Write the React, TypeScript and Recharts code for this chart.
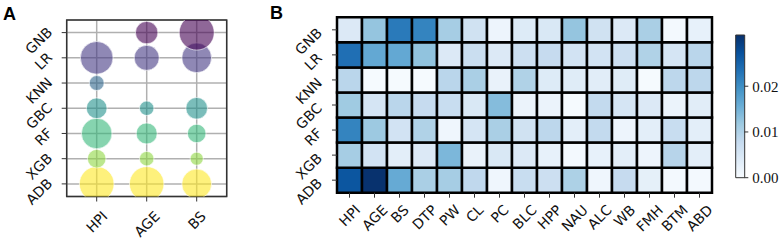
import React from 'react';
import {
  ScatterChart, Scatter, XAxis, YAxis, ZAxis, CartesianGrid, Cell, ReferenceArea,
  BarChart, Bar,
} from 'recharts';

// ---------- data ----------
// models, listed bottom -> top
const models = ['ADB', 'XGB', 'RF', 'GBC', 'KNN', 'LR', 'GNB'];

// Panel A: bubble importance (relative area) for HPI, AGE, BS; 0 = no bubble
const bubbleFeatures = ['HPI', 'AGE', 'BS'];
const bubbleADB = [0.98, 0.97, 0.72];
const bubbleXGB = [0.28, 0.17, 0.14];
const bubbleRF = [0.76, 0.36, 0.28];
const bubbleGBC = [0.35, 0.17, 0.38];
const bubbleKNN = [0.18, 0, 0];
const bubbleLR = [0.87, 0.51, 0.72];
const bubbleGNB = [0, 0.41, 1.0];

// Panel B: heatmap of feature importance
const heatFeatures = ['HPI', 'AGE', 'BS', 'DTP', 'PW', 'CL', 'PC', 'BLC', 'HPP', 'NAU', 'ALC', 'WB', 'FMH', 'BTM', 'ABD'];
const heatADB = [0.0267, 0.0310, 0.0161, 0.0105, 0.0109, 0.0084, 0.0012, 0.0074, 0.0068, 0.0102, 0.0012, 0.0078, 0.0028, 0.0006, 0.0006];
const heatXGB = [0.0109, 0.0059, 0.0031, 0.0043, 0.0143, 0.0022, 0.0047, 0.0043, 0.0025, 0.0006, 0.0025, 0.0031, 0.0016, 0.0093, 0.0031];
const heatRF = [0.0211, 0.0118, 0.0059, 0.0099, 0.0012, 0.0053, 0.0105, 0.0062, 0.0087, 0.0031, 0.0081, 0.0016, 0.0031, 0.0074, 0.0031];
const heatGBC = [0.0115, 0.0053, 0.0090, 0.0078, 0.0074, 0.0047, 0.0136, 0.0019, 0.0019, 0.0003, 0.0081, 0.0053, 0.0043, 0.0019, 0.0034];
const heatKNN = [0.0090, 0.0003, 0.0003, 0.0003, 0.0090, 0.0105, 0.0022, 0.0099, 0.0040, 0.0037, 0.0034, 0.0037, 0.0003, 0.0087, 0.0087];
const heatLR = [0.0236, 0.0164, 0.0164, 0.0127, 0.0043, 0.0071, 0.0043, 0.0068, 0.0078, 0.0059, 0.0059, 0.0068, 0.0099, 0.0053, 0.0090];
const heatGNB = [0.0043, 0.0124, 0.0223, 0.0211, 0.0109, 0.0062, 0.0016, 0.0040, 0.0047, 0.0124, 0.0062, 0.0043, 0.0105, 0.0006, 0.0025];

const colorbarMax = 0.0312;
const colorbarTicks = [0, 0.01, 0.02];

// ---------- helpers ----------
const bubbleRows = [bubbleADB, bubbleXGB, bubbleRF, bubbleGBC, bubbleKNN, bubbleLR, bubbleGNB];
const heatRows = [heatADB, heatXGB, heatRF, heatGBC, heatKNN, heatLR, heatGNB];
const viridis = ['#fde725', '#90d743', '#35b779', '#21918c', '#31688e', '#443983', '#440154'];
const BLUES = ['#f7fbff', '#deebf7', '#c6dbef', '#9ecae1', '#6baed6', '#4292c6', '#2171b5', '#08519c', '#08306b'];

function hexToRgb(h: string) {
  return [parseInt(h.slice(1, 3), 16), parseInt(h.slice(3, 5), 16), parseInt(h.slice(5, 7), 16)];
}
function blues(t: number) {
  const tt = Math.max(0, Math.min(1, t));
  const p = tt * (BLUES.length - 1);
  const i = Math.min(BLUES.length - 2, Math.floor(p));
  const f = p - i;
  const a = hexToRgb(BLUES[i]);
  const b = hexToRgb(BLUES[i + 1]);
  const c = a.map((v, k) => Math.round(v + (b[k] - v) * f));
  return `rgb(${c[0]},${c[1]},${c[2]})`;
}

// approximate DejaVu Sans advance widths (em)
const CW: Record<string, number> = {
  A: 0.684, B: 0.686, C: 0.698, D: 0.770, E: 0.632, F: 0.575, G: 0.775, H: 0.752, I: 0.295,
  L: 0.557, M: 0.863, N: 0.748, P: 0.603, R: 0.695, S: 0.635, T: 0.611, U: 0.732, W: 0.989, X: 0.685,
};
function textWidth(t: string, fs: number) {
  let w = 0;
  for (const ch of t) w += CW[ch] ?? 0.65;
  return w * fs;
}

const SANS = 'DejaVu Sans';
const FS = 14;

function renderXTick(props: any, labels: string[] | null, topOff: number) {
  const { x, y, payload } = props;
  const label = labels ? labels[payload.value] : String(payload.value);
  const L = textWidth(label, FS);
  const c = 0.73 * FS;
  const ax = Number(x) + 0.354 * (L + c);
  const ay = Number(y) + topOff + 0.707 * c;
  return (
    <g>
      <text transform={`translate(${ax},${ay}) rotate(-45)`} textAnchor="end"
        fontFamily={SANS} fontSize={FS} fill="#111">{label}</text>
    </g>
  );
}

function renderYTick(props: any, labels: string[], dx: number, dy: number) {
  const { x, y, payload } = props;
  const label = labels[Math.floor(payload.value)];
  return (
    <g>
      <text transform={`translate(${Number(x) - dx},${Number(y) + dy}) rotate(-45)`} textAnchor="end"
        fontFamily={SANS} fontSize={FS} fill="#111">{label}</text>
    </g>
  );
}

// bubble points
const bubblePoints: { x: number; y: number; z: number; color: string }[] = [];
bubbleRows.forEach((row, i) => {
  row.forEach((v, j) => {
    if (v > 0) bubblePoints.push({ x: j, y: i, z: v, color: viridis[i] });
  });
});

// heatmap table
const heatTable = heatFeatures.map((f) => {
  const o: any = { name: f };
  models.forEach((m) => { o[m] = 1; });
  return o;
});

export default function App() {
  return (
    <div style={{ position: 'absolute', left: 0, top: 0, width: 782, height: 240, background: '#fff', overflow: 'hidden' }}>
      {/* Panel A */}
      <div style={{ position: 'absolute', left: 0, top: 0 }}>
        <ScatterChart width={240} height={240} margin={{ top: 20, right: 13.3, bottom: 13.5, left: 6.7 }}>
          <CartesianGrid stroke="#b0b0b0" strokeWidth={1.5} />
          <XAxis type="number" dataKey="x" domain={[-0.6, 2.6]} ticks={[0, 1, 2]} allowDataOverflow
            height={30} axisLine={false} tickSize={5} tickLine={{ stroke: '#333' }}
            tick={(p: any) => renderXTick(p, bubbleFeatures, 6.5)} interval={0} />
          <YAxis type="number" dataKey="y" domain={[-0.5, 6.5]} ticks={[0, 1, 2, 3, 4, 5, 6]} allowDataOverflow
            width={60} axisLine={false} tickSize={5} tickLine={{ stroke: '#333' }}
            tick={(p: any) => renderYTick(p, models, 6.5, 0.5)} interval={0} />
          <ZAxis type="number" dataKey="z" domain={[0, 1]} range={[0, 962]} />
          <Scatter data={bubblePoints} isAnimationActive={false} fillOpacity={0.6} stroke="#fff" strokeWidth={0.6}>
            {bubblePoints.map((p, k) => <Cell key={k} fill={p.color} />)}
          </Scatter>
          <ReferenceArea x1={-0.6} x2={2.6} y1={-0.5} y2={6.5} fill="none" stroke="#333" strokeWidth={1.5} />
        </ScatterChart>
      </div>

      {/* Panel B heatmap */}
      <div style={{ position: 'absolute', left: 230, top: 0 }}>
        <BarChart width={500} height={240} data={heatTable} barCategoryGap={0} barGap={0}
          margin={{ top: 17.3, right: 18, bottom: 12.3, left: 47 }}>
          <XAxis dataKey="name" type="category" interval={0} height={35} axisLine={false}
            tickSize={5} tickLine={{ stroke: '#333' }} tick={(p: any) => renderXTick(p, null, 4)} />
          <YAxis type="number" domain={[0, 7]} ticks={[0.5, 1.5, 2.5, 3.5, 4.5, 5.5, 6.5]} interval={0}
            width={60} axisLine={false} tickSize={5} tickLine={{ stroke: '#333' }}
            tick={(p: any) => renderYTick(p, models, 7, 4)} />
          {models.map((m, i) => (
            <Bar key={m} dataKey={m} stackId="h" isAnimationActive={false} stroke="#000" strokeWidth={2.5}>
              {heatFeatures.map((f, j) => <Cell key={f} fill={blues(heatRows[i][j] / colorbarMax)} />)}
            </Bar>
          ))}
        </BarChart>
      </div>

      {/* Colorbar */}
      <div style={{ position: 'absolute', left: 720, top: 0 }}>
        <BarChart width={62} height={240} data={[{ name: 'cb', v: colorbarMax }]} barCategoryGap={0}
          margin={{ top: 35, right: 2.7, bottom: 62.3, left: 15.7 }}>
          <defs>
            <linearGradient id="cbGrad" x1="0" y1="1" x2="0" y2="0">
              {BLUES.map((c, k) => <stop key={k} offset={k / (BLUES.length - 1)} stopColor={c} />)}
            </linearGradient>
          </defs>
          <XAxis dataKey="name" hide />
          <YAxis orientation="right" type="number" domain={[0, colorbarMax]} ticks={colorbarTicks}
            tickFormatter={(v: number) => v.toFixed(2)} width={35} axisLine={false}
            tickSize={4} tickMargin={4} tickLine={{ stroke: '#333' }}
            tick={{ fontFamily: 'Liberation Serif', fontSize: 15, fill: '#111' }} />
          <Bar dataKey="v" fill="url(#cbGrad)" stroke="#333" strokeWidth={1} isAnimationActive={false} />
        </BarChart>
      </div>

      {/* Panel letters */}
      <svg width={782} height={240} style={{ position: 'absolute', left: 0, top: 0, pointerEvents: 'none' }}>
        <text x={3} y={20} fontFamily="Liberation Sans" fontWeight="bold" fontSize={18} fill="#000">A</text>
        <text x={270} y={19} fontFamily="Liberation Sans" fontWeight="bold" fontSize={18} fill="#000">B</text>
      </svg>
    </div>
  );
}
